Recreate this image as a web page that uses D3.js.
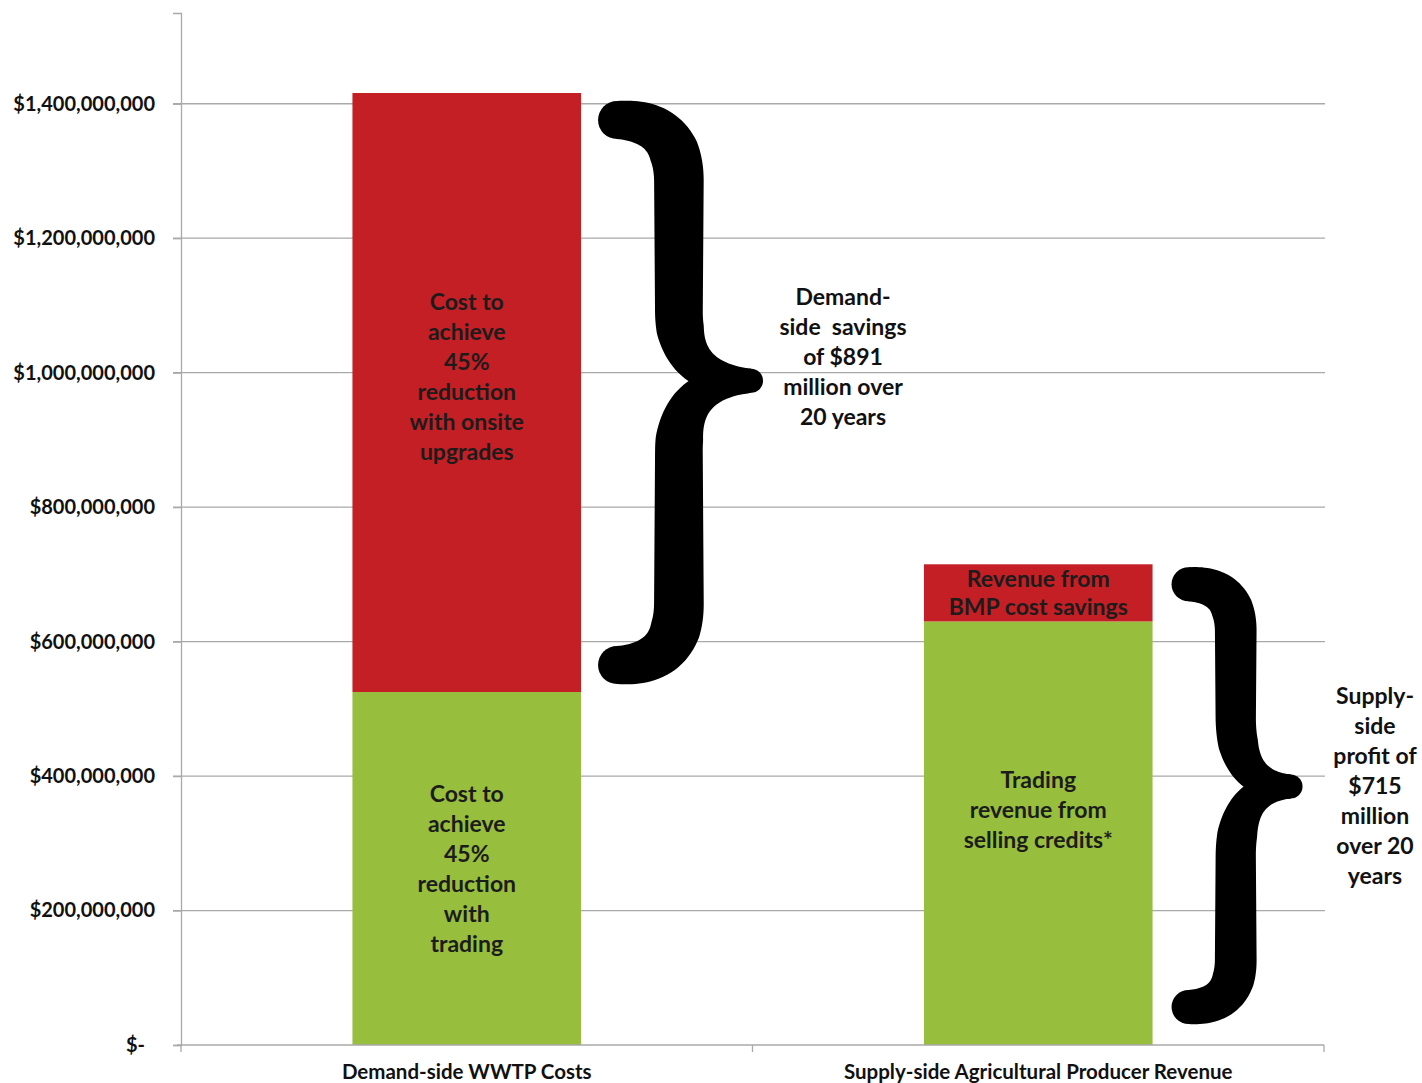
<!DOCTYPE html>
<html>
<head>
<meta charset="utf-8">
<script src="https://cdn.jsdelivr.net/npm/d3@7"></script>
<style>
  body { margin: 0; background: #fff; }
  text { font-family: Lato, "Open Sans", sans-serif; font-weight: bold; white-space: pre; }
</style>
</head>
<body>
<svg width="1422" height="1083"></svg>
<script>
// data (US dollars)
const categories = ["Demand-side WWTP Costs", "Supply-side Agricultural Producer Revenue"];
const baseValues = [525e6, 630e6];   // green
const topValues = [891e6, 85e6];     // red
const yTicks = [0, 200e6, 400e6, 600e6, 800e6, 1000e6, 1200e6, 1400e6];
const baseLabels = [
  ["Cost to", "achieve", "45%", "reduction", "with", "trading"],
  ["Trading", "revenue from", "selling credits*"]
];
const topLabels = [
  ["Cost to", "achieve", "45%", "reduction", "with onsite", "upgrades"],
  ["Revenue from", "BMP cost savings"]
];
const notes = [
  ["Demand-", "side  savings", "of $891", "million over", "20 years"],
  ["Supply-", "side", "profit of", "$715", "million", "over 20", "years"]
];

const svg = d3.select("svg");
const GREEN = "#97be3d", RED = "#c31f25", GRID = "#a9a9a9";

const x = d3.scaleBand().domain(categories).range([181, 1324]).padding(0);
const y = d3.scaleLinear().domain([0, 1535e6]).range([1045, 13]);
const barW = x.bandwidth() * 0.4;

const rows = categories.map((c, i) => ({cat: c, base: baseValues[i], top: topValues[i]}));
const stack = d3.stack().keys(["base", "top"])(rows);

// gridlines
svg.append("g")
  .selectAll("line")
  .data(yTicks.slice(1))
  .enter().append("line")
  .attr("x1", 173).attr("x2", 1325)
  .attr("y1", d => y(d)).attr("y2", d => y(d))
  .attr("stroke", GRID).attr("stroke-width", 1.3);

// y axis
const yAxis = svg.append("g")
  .attr("transform", "translate(181,0)")
  .call(d3.axisLeft(y).tickValues(yTicks).tickSize(8).tickPadding(18)
    .tickFormat(d => d === 0 ? "$-" : "$" + d3.format(",")(d)));
yAxis.select(".domain").attr("stroke", GRID).attr("stroke-width", 1.3);
yAxis.selectAll(".tick line").attr("stroke", GRID).attr("stroke-width", 1.3);
yAxis.selectAll(".tick text")
  .attr("font-size", 20).attr("fill", "#111")
  .attr("font-family", "Lato, sans-serif").attr("font-weight", "bold")
  .attr("dx", d => d === 0 ? -10 : 0);

// bars
const colors = [GREEN, RED];
svg.append("g")
  .selectAll("g")
  .data(stack)
  .enter().append("g")
  .attr("fill", (d, i) => colors[i])
  .selectAll("rect")
  .data(d => d)
  .enter().append("rect")
  .attr("x", d => x(d.data.cat) + (x.bandwidth() - barW) / 2)
  .attr("width", barW)
  .attr("y", d => y(d[1]))
  .attr("height", d => y(d[0]) - y(d[1]));

// x axis
const xAxis = svg.append("g")
  .attr("transform", "translate(0,1045)");
xAxis.append("line").attr("x1", 177).attr("x2", 1324)
  .attr("stroke", GRID).attr("stroke-width", 1.3);
xAxis.selectAll(".tk")
  .data([181, x(categories[1]), 1324])
  .enter().append("line")
  .attr("x1", d => d).attr("x2", d => d)
  .attr("y1", 0).attr("y2", 7)
  .attr("stroke", GRID).attr("stroke-width", 1.3);
xAxis.selectAll(".cl")
  .data(categories)
  .enter().append("text")
  .attr("x", d => x(d) + x.bandwidth() / 2)
  .attr("y", 34)
  .attr("text-anchor", "middle")
  .attr("font-size", 20.5)
  .attr("fill", "#111")
  .text(d => d);

// labels inside segments
function block(lines, cx, cy, lh, size, color) {
  const t = svg.append("text")
    .attr("text-anchor", "middle")
    .attr("font-size", size)
    .attr("fill", color);
  const y0 = cy - (lines.length - 1) * lh / 2;
  lines.forEach((l, i) => {
    t.append("tspan").attr("x", cx).attr("y", y0 + i * lh).attr("dy", "0.35em").text(l);
  });
}
const segShift = [[0, -16], [-23, 0]];  // [base, top] label nudges per category
stack.forEach((s, k) => {
  s.forEach((d, i) => {
    const lines = k === 0 ? baseLabels[i] : topLabels[i];
    const cx = x(d.data.cat) + x.bandwidth() / 2;
    const cy = (y(d[0]) + y(d[1])) / 2 + segShift[i][k];
    block(lines, cx, cy, k === 1 && i === 1 ? 28 : 30, 23, "#1c1c1c");
  });
});

// braces: filled outline around a centreline, thick stem, thinner arms, rounded tip
function halfOutline(d, profile, g) {
  const tmp = g.append("path").attr("d", d);
  const node = tmp.node();
  const len = node.getTotalLength();
  const n = 120;
  const pts = d3.range(n + 1).map(i => node.getPointAtLength(len * i / n));
  tmp.remove();
  const left = [], right = [];
  pts.forEach((p, i) => {
    const a = pts[Math.max(0, i - 1)], b = pts[Math.min(n, i + 1)];
    const dx = b.x - a.x, dy = b.y - a.y, l = Math.hypot(dx, dy) || 1;
    const nx = -dy / l, ny = dx / l;
    const hw = profile(i / n) / 2;
    left.push([p.x + nx * hw, p.y + ny * hw]);
    right.push([p.x - nx * hw, p.y - ny * hw]);
  });
  g.append("path")
    .attr("d", d3.line()(left.concat(right.reverse())) + "Z");
  g.append("circle").attr("cx", pts[0].x).attr("cy", pts[0].y).attr("r", profile(0) / 2);
}

function brace(x0, width, yTop, yBot, armW, stemW) {
  const h = armW / 2;
  const tipR = 12;
  const xTip = x0 + width - tipR;
  const xs = x0 + width * 0.49;
  const yTip = yTop + (yBot - yTop) * 0.48;
  const r = xs - x0 - h;
  const k = 70;
  const up = d3.path();
  up.moveTo(x0 + h, yTop + h);
  up.quadraticCurveTo(xs, yTop + h, xs, yTop + h + r);
  up.lineTo(xs, yTip - k);
  up.bezierCurveTo(xs, yTip - k * 0.3, xs + (xTip - xs) * 0.35, yTip, xTip, yTip);
  const dn = d3.path();
  dn.moveTo(x0 + h, yBot - h);
  dn.quadraticCurveTo(xs, yBot - h, xs, yBot - h - r);
  dn.lineTo(xs, yTip + k);
  dn.bezierCurveTo(xs, yTip + k * 0.3, xs + (xTip - xs) * 0.35, yTip, xTip, yTip);
  const profile = d3.scaleLinear()
    .domain([0, 0.2, 0.72, 1])
    .range([armW, stemW, stemW * 0.95, tipR * 2]);
  const g = svg.append("g").attr("fill", "#000");
  halfOutline(up.toString(), profile, g);
  halfOutline(dn.toString(), profile, g);
  g.append("circle").attr("cx", xTip).attr("cy", yTip).attr("r", tipR);
  return yTip;
}
const barRight = i => x(categories[i]) + (x.bandwidth() + barW) / 2;

const t1 = brace(barRight(0) + 17, 165, y(baseValues[0] + topValues[0]) + 8, y(baseValues[0]) - 8, 38, 50);
const t2 = brace(barRight(1) + 19, 131, y(baseValues[1] + topValues[1]) + 3, y(0) - 21, 34, 42);

block(notes[0], 843, t1 - 24, 30, 23, "#111");
block(notes[1], 1375, t2 - 1, 30, 23, "#111");
</script>
</body>
</html>
